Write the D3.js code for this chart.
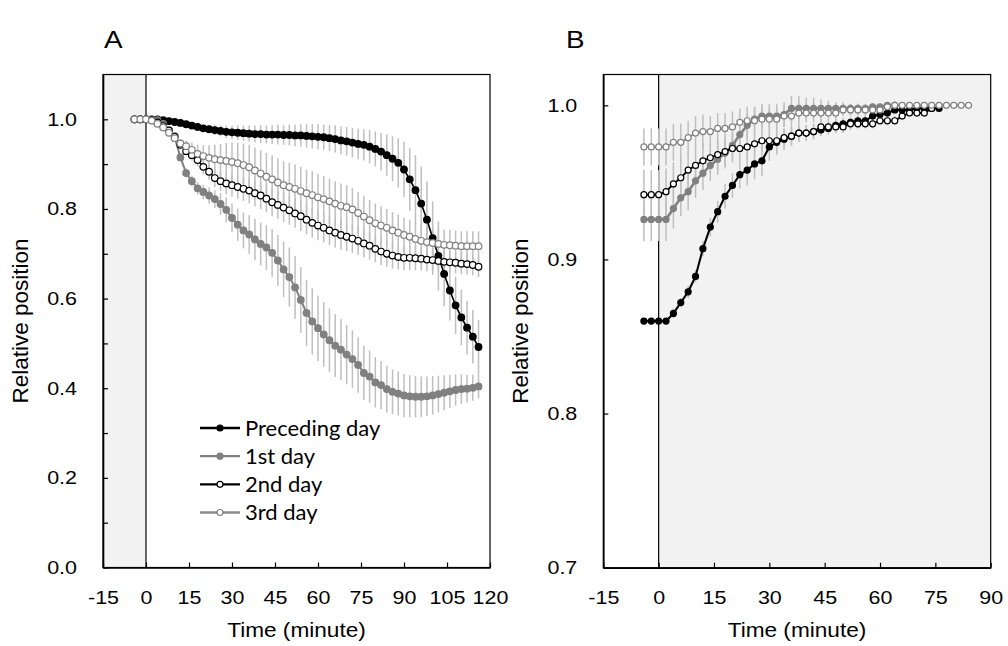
<!DOCTYPE html>
<html>
<head>
<meta charset="utf-8">
<script src="https://cdn.jsdelivr.net/npm/d3@7"></script>
<style>
  body { margin: 0; background: #fff; }
  text { font-family: "Liberation Sans", Arial, sans-serif; fill: #000; }
  .legend text { font-family: Lato, "Noto Sans", sans-serif; }
</style>
</head>
<body>
<svg id="chart" width="1008" height="646"></svg>
<script>
// ---- panel A data (relative position, mean and error) ----
const timeA = [-4,-2,0,2,4,6,8,10,12,14,16,18,20,22,24,26,28,30,32,34,36,38,40,42,44,46,48,50,52,54,
  56,58,60,62,64,66,68,70,72,74,76,78,80,82,84,86,88,90,92,94,96,98,100,102,104,106,108,110,112,114,116];

const precA = [1.0,1.0,1.0,1.0,1.0,0.998,0.996,0.994,0.992,0.989,0.986,0.983,0.98,0.978,0.976,0.974,0.972,0.971,0.970,0.969,
  0.968,0.967,0.967,0.966,0.966,0.966,0.965,0.965,0.964,0.964,0.963,0.962,0.961,0.960,0.958,0.956,0.953,0.951,0.948,0.945,
  0.943,0.939,0.934,0.928,0.92,0.912,0.903,0.888,0.866,0.842,0.812,0.776,0.735,0.695,0.655,0.618,0.585,0.558,0.535,0.515,0.492];
const precErrA = [0,0,0,0,0,0.002,0.002,0.003,0.004,0.005,0.006,0.007,0.008,0.01,0.011,0.012,0.014,0.015,0.016,0.017,
  0.018,0.019,0.02,0.02,0.021,0.022,0.022,0.023,0.024,0.025,0.026,0.027,0.028,0.028,0.029,0.03,0.031,0.032,0.033,0.034,
  0.035,0.037,0.039,0.042,0.046,0.05,0.055,0.062,0.07,0.078,0.083,0.085,0.082,0.077,0.072,0.067,0.064,0.062,0.06,0.06,0.06];

const firstA = [1.0,1.0,1.0,1.0,0.998,0.99,0.975,0.96,0.915,0.88,0.862,0.846,0.838,0.83,0.822,0.811,0.798,0.78,0.765,0.752,
  0.743,0.732,0.722,0.714,0.702,0.685,0.665,0.648,0.625,0.597,0.568,0.549,0.534,0.52,0.507,0.495,0.486,0.475,0.465,0.452,
  0.434,0.426,0.413,0.407,0.398,0.392,0.388,0.384,0.382,0.381,0.381,0.382,0.384,0.387,0.39,0.393,0.396,0.398,0.399,0.401,0.404];
const firstErrA = [0,0,0,0,0,0.002,0.004,0.006,0.008,0.01,0.012,0.014,0.016,0.018,0.02,0.024,0.028,0.032,0.036,0.04,
  0.043,0.046,0.048,0.05,0.053,0.057,0.062,0.066,0.07,0.073,0.074,0.074,0.073,0.072,0.071,0.07,0.068,0.066,0.064,0.062,
  0.06,0.058,0.056,0.054,0.052,0.05,0.049,0.048,0.047,0.046,0.045,0.044,0.043,0.041,0.039,0.037,0.035,0.033,0.031,0.029,0.027];

const secondA = [1.0,1.0,1.0,0.998,0.993,0.985,0.975,0.962,0.943,0.929,0.92,0.909,0.894,0.883,0.869,0.862,0.857,0.853,0.849,0.845,
  0.841,0.835,0.83,0.823,0.815,0.809,0.803,0.797,0.79,0.784,0.776,0.769,0.763,0.758,0.752,0.747,0.742,0.738,0.734,0.729,
  0.723,0.718,0.711,0.705,0.7,0.696,0.693,0.691,0.691,0.69,0.689,0.687,0.686,0.684,0.682,0.681,0.68,0.678,0.677,0.675,0.671];
const secondErrA = [0,0,0,0,0.002,0.003,0.004,0.006,0.008,0.01,0.012,0.014,0.016,0.018,0.02,0.022,0.024,0.025,0.026,0.027,
  0.028,0.029,0.03,0.03,0.031,0.031,0.032,0.032,0.032,0.033,0.033,0.033,0.033,0.033,0.033,0.033,0.033,0.032,0.032,0.032,
  0.031,0.031,0.03,0.03,0.029,0.029,0.028,0.028,0.027,0.027,0.026,0.026,0.025,0.025,0.025,0.024,0.024,0.024,0.023,0.023,0.023];

const thirdA = [1.0,1.0,1.0,0.997,0.99,0.982,0.97,0.958,0.946,0.94,0.932,0.923,0.918,0.914,0.911,0.909,0.907,0.905,0.902,0.898,
  0.893,0.886,0.879,0.872,0.866,0.859,0.853,0.849,0.845,0.84,0.835,0.831,0.826,0.822,0.817,0.812,0.807,0.804,0.799,0.791,
  0.783,0.775,0.768,0.763,0.758,0.752,0.747,0.742,0.738,0.733,0.729,0.726,0.724,0.722,0.72,0.719,0.718,0.717,0.717,0.717,0.717];
const thirdErrA = [0,0,0,0,0.002,0.004,0.006,0.008,0.01,0.013,0.016,0.02,0.024,0.028,0.032,0.036,0.04,0.043,0.046,0.048,
  0.05,0.051,0.052,0.053,0.053,0.054,0.054,0.054,0.054,0.054,0.053,0.053,0.052,0.052,0.051,0.05,0.05,0.049,0.048,0.047,
  0.046,0.045,0.044,0.043,0.042,0.041,0.04,0.039,0.038,0.037,0.036,0.036,0.035,0.035,0.034,0.034,0.034,0.033,0.033,0.033,0.033];

// ---- panel B data ----
const timeB = [-4,-2,0,2,4,6,8,10,12,14,16,18,20,22,24,26,28,30,32,34,36,38,40,42,44,46,48,50,52,54,
  56,58,60,62,64,66,68,70,72,74,76,78,80,82,84];

const precB = [0.86,0.86,0.86,0.86,0.865,0.872,0.879,0.889,0.907,0.921,0.931,0.941,0.948,0.955,0.958,0.962,0.964,0.973,0.976,0.978,
  0.98,0.982,0.982,0.983,0.984,0.985,0.987,0.988,0.989,0.99,0.99,0.993,0.994,0.995,0.997,0.997,0.997,0.998,0.998,0.998,0.998];
const precErrB = [0.002,0.002,0.002,0.002,0.003,0.003,0.004,0.004,0.005,0.006,0.007,0.008,0.008,0.009,0.01,0.01,0.01,0.009,0.008,0.007,
  0.006,0.005,0.005,0.005,0.004,0.004,0.004,0.004,0.003,0.003,0.003,0.003,0.003,0.002,0.002,0.002,0.002,0.002,0.002,0.002,0.002];

const firstB = [0.926,0.926,0.926,0.926,0.933,0.94,0.944,0.951,0.956,0.961,0.965,0.969,0.974,0.981,0.987,0.991,0.993,0.993,0.993,0.994,
  0.998,0.998,0.998,0.998,0.998,0.998,0.998,0.998,0.998,0.998,0.998,0.999,0.999,1.0,1.0];
const firstErrB = [0.014,0.014,0.014,0.014,0.013,0.012,0.012,0.011,0.011,0.01,0.01,0.01,0.009,0.009,0.008,0.008,0.008,0.008,0.008,0.008,
  0.008,0.008,0.007,0.007,0.006,0.005,0.004,0.004,0.003,0.003,0.002,0.002,0.002,0.002,0.002];

const secondB = [0.942,0.942,0.942,0.944,0.949,0.953,0.958,0.961,0.964,0.966,0.968,0.97,0.972,0.972,0.973,0.975,0.977,0.977,0.977,0.979,
  0.98,0.982,0.982,0.983,0.986,0.986,0.986,0.986,0.988,0.988,0.988,0.988,0.99,0.99,0.99,0.993,0.995,0.995,0.995,0.998];
const secondErrB = [0.016,0.016,0.016,0.015,0.014,0.013,0.012,0.011,0.011,0.01,0.01,0.009,0.009,0.008,0.008,0.008,0.007,0.007,0.007,0.006,
  0.006,0.006,0.005,0.005,0.005,0.004,0.004,0.004,0.004,0.003,0.003,0.003,0.003,0.003,0.003,0.002,0.002,0.002,0.002,0.002];

const thirdB = [0.973,0.973,0.973,0.973,0.976,0.976,0.979,0.982,0.983,0.983,0.985,0.985,0.986,0.989,0.99,0.99,0.991,0.991,0.991,0.993,
  0.993,0.995,0.995,0.995,0.995,0.995,0.995,0.997,0.997,0.997,0.997,0.997,0.997,0.999,1.0,1.0,1.0,1.0,1.0,1.0,
  1.0,1.0,1.0,1.0,1.0];
const thirdErrB = [0.012,0.012,0.012,0.012,0.012,0.012,0.011,0.011,0.011,0.01,0.01,0.01,0.01,0.009,0.009,0.009,0.008,0.008,0.008,0.007,
  0.007,0.007,0.006,0.006,0.005,0.005,0.005,0.004,0.004,0.004,0.004,0.003,0.003,0.003,0.003,0.002,0.002,0.002,0.002,0.002,
  0.002,0.002,0.002,0.002,0.002];

// ---- labels & ticks ----
const seriesNames = ["Preceding day", "1st day", "2nd day", "3rd day"];
const xTicksA = [-15, 0, 15, 30, 45, 60, 75, 90, 105, 120];
const yTicksA = [0, 0.1, 0.2, 0.3, 0.4, 0.5, 0.6, 0.7, 0.8, 0.9, 1.0];
const xTicksB = [-15, 0, 15, 30, 45, 60, 75, 90];
const yTicksB = [0.7, 0.8, 0.9, 1.0];

// marker/line look for each series, in legend order
const looks = [
  { line: "#000", width: 1.6, fill: "#000", stroke: "#000" },
  { line: "#808080", width: 2, fill: "#808080", stroke: "#808080" },
  { line: "#000", width: 1.4, fill: "#fff", stroke: "#000" },
  { line: "#8c8c8c", width: 1.4, fill: "#fff", stroke: "#808080" }
];

const svg = d3.select("#chart");

function drawPanel(cfg) {
  const x = d3.scaleLinear().domain(cfg.xDomain).range([cfg.left, cfg.right]);
  const y = d3.scaleLinear().domain(cfg.yDomain).range([cfg.bottom, cfg.top]);
  const g = svg.append("g");

  // shaded interval
  g.append("rect")
    .attr("x", x(cfg.shade[0])).attr("y", cfg.top)
    .attr("width", x(cfg.shade[1]) - x(cfg.shade[0]))
    .attr("height", cfg.bottom - cfg.top)
    .attr("fill", "#f2f2f2");
  g.append("line")
    .attr("x1", x(0)).attr("x2", x(0)).attr("y1", cfg.top).attr("y2", cfg.bottom)
    .attr("stroke", "#000").attr("stroke-width", 1.2);
  g.append("rect")
    .attr("x", cfg.left).attr("y", cfg.top)
    .attr("width", cfg.right - cfg.left).attr("height", cfg.bottom - cfg.top)
    .attr("fill", "none").attr("stroke", "#000").attr("stroke-width", 1.2);

  const series = cfg.series.map(s => s.values.map((v, i) => ({ t: cfg.time[i], v: v, e: s.err[i] })));

  // error bars behind everything
  series.forEach(pts => {
    g.append("g").selectAll("line")
      .data(pts.filter(d => d.e > 0))
      .join("line")
      .attr("x1", d => x(d.t)).attr("x2", d => x(d.t))
      .attr("y1", d => y(d.v - d.e)).attr("y2", d => y(d.v + d.e))
      .attr("stroke", "#bfbfbf").attr("stroke-width", 1.5);
  });

  const line = d3.line().x(d => x(d.t)).y(d => y(d.v));
  series.forEach((pts, k) => {
    const lk = looks[k];
    g.append("path").datum(pts)
      .attr("d", line).attr("fill", "none")
      .attr("stroke", lk.line).attr("stroke-width", lk.width * cfg.lineScale);
    g.append("g").selectAll("circle")
      .data(pts)
      .join("circle")
      .attr("cx", d => x(d.t)).attr("cy", d => y(d.v))
      .attr("r", cfg.r)
      .attr("fill", lk.fill).attr("stroke", lk.stroke).attr("stroke-width", 1.2);
  });

  // axes with inward ticks
  const yAxis = d3.axisLeft(y).tickValues(cfg.yTicks).tickSizeInner(-5).tickSizeOuter(0)
    .tickPadding(26).tickFormat(cfg.yFormat);
  const gy = g.append("g").attr("transform", `translate(${cfg.left},0)`).call(yAxis);
  const xAxis = d3.axisBottom(x).tickValues(cfg.xTicks).tickSizeInner(-5).tickSizeOuter(0)
    .tickPadding(23).tickFormat(d => String(d));
  const gx = g.append("g").attr("transform", `translate(0,${cfg.bottom})`).call(xAxis);
  [gx, gy].forEach(a => {
    a.select(".domain").attr("stroke", "#000").attr("stroke-width", 1.6);
    a.selectAll(".tick line").attr("stroke", "#000").attr("stroke-width", 1.2);
    a.selectAll("text").attr("font-size", 18.5).classed("wide", true);
  });

  // titles
  g.append("text")
    .attr("class", "wide")
    .attr("x", (cfg.left + cfg.right) / 2).attr("y", 637)
    .attr("text-anchor", "middle").attr("font-size", 19.5)
    .text("Time (minute)");
  g.append("text")
    .attr("transform", `translate(${cfg.left - 75},${(cfg.top + cfg.bottom) / 2}) rotate(-90)`)
    .attr("text-anchor", "middle").attr("font-size", 22.5)
    .text("Relative position");
  g.append("text")
    .attr("class", "wide")
    .attr("x", cfg.letterX).attr("y", 48)
    .attr("font-size", 24)
    .text(cfg.letter);
}

drawPanel({
  letter: "A", letterX: 104,
  left: 103, right: 490, top: 74.5, bottom: 567.5,
  xDomain: [-15, 120], yDomain: [0, 1.1], shade: [-15, 0], r: 3.3, lineScale: 1,
  xTicks: xTicksA, yTicks: yTicksA,
  yFormat: d => (Math.round(d * 10) % 2 === 0 ? d.toFixed(1) : ""),
  time: timeA,
  series: [
    { values: precA, err: precErrA },
    { values: firstA, err: firstErrA },
    { values: secondA, err: secondErrA },
    { values: thirdA, err: thirdErrA }
  ]
});

drawPanel({
  letter: "B", letterX: 566,
  left: 603.3, right: 990.7, top: 74.5, bottom: 567.7,
  xDomain: [-15, 90], yDomain: [0.7, 1.02], shade: [0, 90], r: 3, lineScale: 1.3,
  xTicks: xTicksB, yTicks: yTicksB,
  yFormat: d => d.toFixed(1),
  time: timeB,
  series: [
    { values: precB, err: precErrB },
    { values: firstB, err: firstErrB },
    { values: secondB, err: secondErrB },
    { values: thirdB, err: thirdErrB }
  ]
});

// the original figure's Arial text is a bit wider than normal
svg.selectAll("text.wide").each(function () {
  const w = this.getComputedTextLength();
  if (w > 0) d3.select(this).attr("textLength", w * 1.16).attr("lengthAdjust", "spacingAndGlyphs");
});

// legend inside panel A
const legend = svg.append("g").attr("class", "legend");
const rowY = d3.scalePoint().domain(seriesNames).range([428, 512.5]);
seriesNames.forEach((name, k) => {
  const yy = rowY(name);
  const lk = looks[k];
  legend.append("line")
    .attr("x1", 200).attr("x2", 240).attr("y1", yy).attr("y2", yy)
    .attr("stroke", lk.line).attr("stroke-width", 2.4);
  legend.append("circle")
    .attr("cx", 220).attr("cy", yy).attr("r", 3)
    .attr("fill", lk.fill).attr("stroke", lk.stroke).attr("stroke-width", 1.2);
  legend.append("text")
    .attr("x", 245).attr("y", yy).attr("dy", "0.35em")
    .attr("font-size", 22)
    .text(name);
});
</script>
</body>
</html>
